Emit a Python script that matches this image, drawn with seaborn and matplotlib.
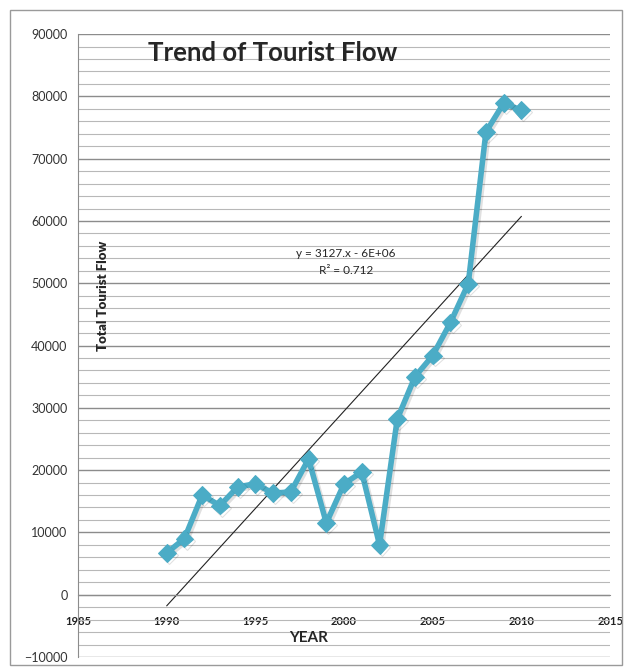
import numpy as np
import pandas as pd
import matplotlib.pyplot as plt
import matplotlib.patheffects as pe
from matplotlib.patches import Rectangle
import seaborn as sns

years = [1990, 1991, 1992, 1993, 1994, 1995, 1996, 1997, 1998, 1999, 2000,
         2001, 2002, 2003, 2004, 2005, 2006, 2007, 2008, 2009, 2010]
tourist_flow = [6700, 9000, 16000, 14300, 17300, 17800, 16300, 16500, 21800, 11500, 17800,
                19700, 8000, 28200, 35000, 38400, 43700, 49900, 74300, 78900, 77800]
x_ticks = [1985, 1990, 1995, 2000, 2005, 2010, 2015]
y_ticks = [-10000, 0, 10000, 20000, 30000, 40000, 50000, 60000, 70000, 80000, 90000]

df = pd.DataFrame({"YEAR": years, "Flow": tourist_flow})

sns.set_style("white")
plt.rcParams['font.family'] = ['Lato', 'DejaVu Sans']

fig = plt.figure(figsize=(6.26, 6.69), dpi=100)
ax = fig.add_axes([0.1246, 0.018, 0.850, 0.931])

# outer chart border
fig.patches.append(Rectangle((10 / 626, 4 / 669), 612 / 626, 655 / 669, transform=fig.transFigure,
                             fill=False, edgecolor="#9a9a9a", linewidth=1.0))

ax.set_xlim(1985, 2015)
ax.set_ylim(-10000, 90000)
ax.set_yticks(y_ticks)
ax.set_yticks(np.arange(-10000, 90001, 2000), minor=True)
ax.set_xticks(x_ticks)
ax.grid(True, which="major", axis="y", color="#8c8c8c", linewidth=1.0)
ax.grid(True, which="minor", axis="y", color="#b8b8b8", linewidth=0.8)
ax.set_axisbelow(True)

for s in ["top", "right"]:
    ax.spines[s].set_visible(False)
ax.spines["left"].set_color("#8c8c8c")
ax.spines["bottom"].set_color("#8c8c8c")
ax.spines["bottom"].set_position(("data", 0))

ax.tick_params(axis="y", which="major", labelsize=9, colors="#333333", length=4, direction="out")
ax.tick_params(axis="y", which="minor", length=0)
ax.tick_params(axis="x", length=4, direction="in", colors="#8c8c8c", labelcolor="#222222", pad=15)
for lab in ax.get_xticklabels():
    lab.set_fontweight("bold")
    lab.set_fontsize(8)

# linear trendline
slope, intercept = np.polyfit(years, tourist_flow, 1)
pred = np.polyval([slope, intercept], years)
r2 = 1 - np.sum((np.array(tourist_flow) - pred) ** 2) / np.sum((np.array(tourist_flow) - np.mean(tourist_flow)) ** 2)
sns.regplot(data=df, x="YEAR", y="Flow", scatter=False, ci=None, ax=ax,
            line_kws=dict(color="#222222", linewidth=0.8))

sns.lineplot(data=df, x="YEAR", y="Flow", ax=ax, color="#4bacc6", linewidth=4,
             marker="D", markersize=9, markeredgecolor="#4bacc6",
             path_effects=[pe.SimpleLineShadow(offset=(1.5, -1.5), alpha=0.12), pe.Normal()])

ax.set_xlabel("")
ax.set_ylabel("")

ax.text(1996.0, 87000, "Trend of Tourist Flow", fontsize=18.5, fontweight="bold", va="center", ha="center")
ax.text(1986.4, 48000, "Total Tourist Flow", rotation=90, fontsize=9.5, fontweight="heavy",
        va="center", ha="center")
ax.text(1998.0, -7000, "YEAR", fontsize=11, fontweight="bold", ha="center", va="center")
ax.text(2000.1, 54800, "y = %d.x - 6E+06" % round(slope), fontsize=8.5, ha="center", va="center")
ax.text(2000.1, 52000, "R\u00b2 = %.3f" % r2, fontsize=8.5, ha="center", va="center")

fig.savefig("out.png", dpi=100)
